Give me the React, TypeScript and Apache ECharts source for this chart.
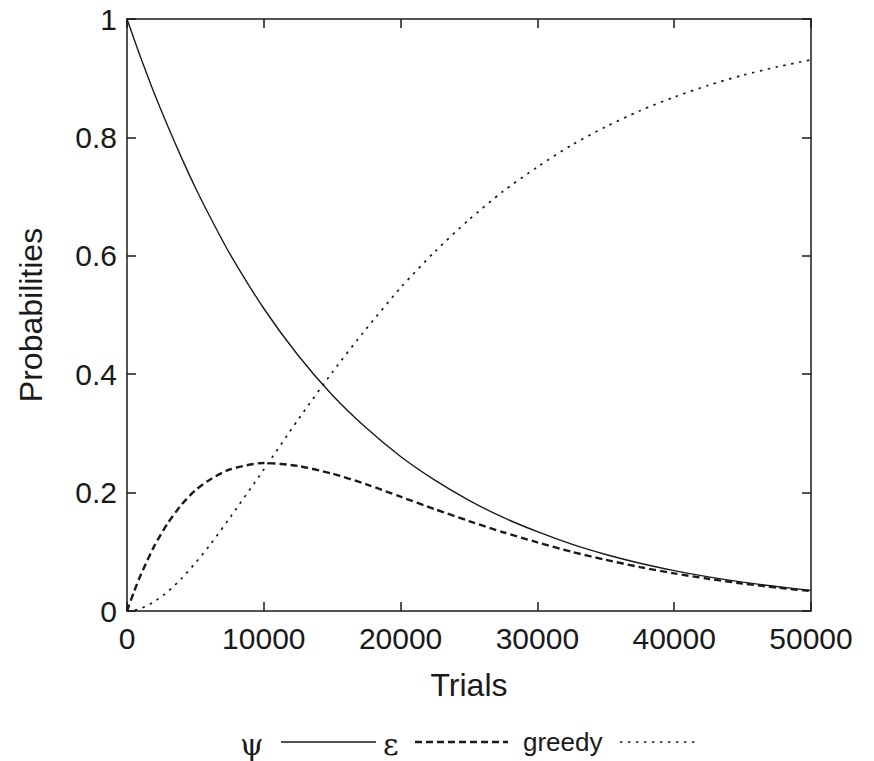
import React, { useEffect, useRef } from "react";
import * as echarts from "echarts";

const trials = [0, 500, 1000, 2000, 3000, 4000, 5000, 6000, 7500, 10000, 12500, 15000, 17500, 20000, 22500, 25000, 27500, 30000, 32500, 35000, 37500, 40000, 42500, 45000, 47500, 50000];
const psi = [1, 0.967, 0.935, 0.874, 0.818, 0.765, 0.715, 0.669, 0.604, 0.511, 0.432, 0.365, 0.309, 0.261, 0.221, 0.187, 0.158, 0.134, 0.113, 0.0955, 0.0807, 0.0683, 0.0577, 0.0488, 0.0413, 0.0349];
const eps = [0, 0.0319, 0.0608, 0.11, 0.149, 0.18, 0.204, 0.221, 0.239, 0.25, 0.245, 0.232, 0.214, 0.193, 0.172, 0.152, 0.133, 0.116, 0.1, 0.0864, 0.0742, 0.0636, 0.0544, 0.0464, 0.0396, 0.0337];
const greedy = [0, 0.0011, 0.0042, 0.0159, 0.0331, 0.0552, 0.0812, 0.1096, 0.1568, 0.239, 0.323, 0.403, 0.477, 0.546, 0.607, 0.661, 0.709, 0.75, 0.787, 0.818, 0.845, 0.868, 0.888, 0.905, 0.919, 0.931];
const legendNames = ["ψ", "ε", "greedy"];

const FONT = "'Liberation Sans', Arial, Helvetica, sans-serif";
const INK = "#1a1a1a";

export default function App() {
  const ref = useRef<HTMLDivElement>(null);
  useEffect(() => {
    if (!ref.current) return;
    const chart = echarts.init(ref.current, undefined, { renderer: "svg" });
    const pairs = (ys: number[]) => trials.map((t, i) => [t, ys[i]]);
    const axisBase = {
      axisLine: { show: true, onZero: false, lineStyle: { color: INK, width: 1.5 } },
      axisTick: { show: true, inside: true, length: 9, lineStyle: { color: INK, width: 1.5 } },
      splitLine: { show: false },
    };
    const ly = 742;
    chart.setOption({
      animation: false,
      backgroundColor: "#fff",
      grid: { left: 127, right: 63, top: 19, bottom: 150 },
      xAxis: [
        {
          type: "value", min: 0, max: 50000, interval: 10000, position: "bottom",
          ...axisBase,
          axisLabel: { fontFamily: FONT, fontSize: 30, color: INK, margin: 12, formatter: (v: number) => String(v) },
          name: "Trials", nameLocation: "middle", nameGap: 58,
          nameTextStyle: { fontFamily: FONT, fontSize: 32, color: INK },
        },
        {
          type: "value", min: 0, max: 50000, interval: 10000, position: "top",
          ...axisBase, axisLabel: { show: false },
        },
      ],
      yAxis: [
        {
          type: "value", min: 0, max: 1, interval: 0.2, position: "left",
          ...axisBase,
          axisLabel: { fontFamily: FONT, fontSize: 30, color: INK, margin: 10 },
          name: "Probabilities", nameLocation: "middle", nameGap: 80,
          nameTextStyle: { fontFamily: FONT, fontSize: 32, color: INK },
        },
        {
          type: "value", min: 0, max: 1, interval: 0.2, position: "right",
          ...axisBase, axisLabel: { show: false },
        },
      ],
      series: [
        {
          name: legendNames[0], type: "line", data: pairs(psi), showSymbol: false, smooth: 0.25,
          lineStyle: { color: INK, width: 1.4 },
        },
        {
          name: legendNames[1], type: "line", data: pairs(eps), showSymbol: false, smooth: 0.25,
          lineStyle: { color: INK, width: 2.4, type: [7, 4] },
        },
        {
          name: legendNames[2], type: "line", data: pairs(greedy), showSymbol: false, smooth: 0.25,
          lineStyle: { color: INK, width: 1.7, type: [2.5, 5.5] },
        },
      ],
      graphic: [
        { type: "text", x: 240, y: ly + 2, style: { text: legendNames[0], font: "30px 'DejaVu Serif', serif", fill: INK, verticalAlign: "middle" } },
        { type: "line", shape: { x1: 281, y1: ly, x2: 376, y2: ly }, style: { stroke: INK, lineWidth: 1.4 } },
        { type: "text", x: 383, y: ly + 2, style: { text: legendNames[1], font: "30px 'DejaVu Serif', serif", fill: INK, verticalAlign: "middle" } },
        { type: "line", shape: { x1: 415, y1: ly, x2: 508, y2: ly }, style: { stroke: INK, lineWidth: 2.4, lineDash: [7, 4] } },
        { type: "text", x: 523, y: ly, style: { text: legendNames[2], font: "26px " + FONT, fill: INK, verticalAlign: "middle" } },
        { type: "line", shape: { x1: 620, y1: ly, x2: 697, y2: ly }, style: { stroke: INK, lineWidth: 1.7, lineDash: [2.5, 5.5] } },
      ],
    });
    return () => chart.dispose();
  }, []);
  return <div ref={ref} style={{ position: "absolute", left: 0, top: 0, width: 874, height: 761 }} />;
}
